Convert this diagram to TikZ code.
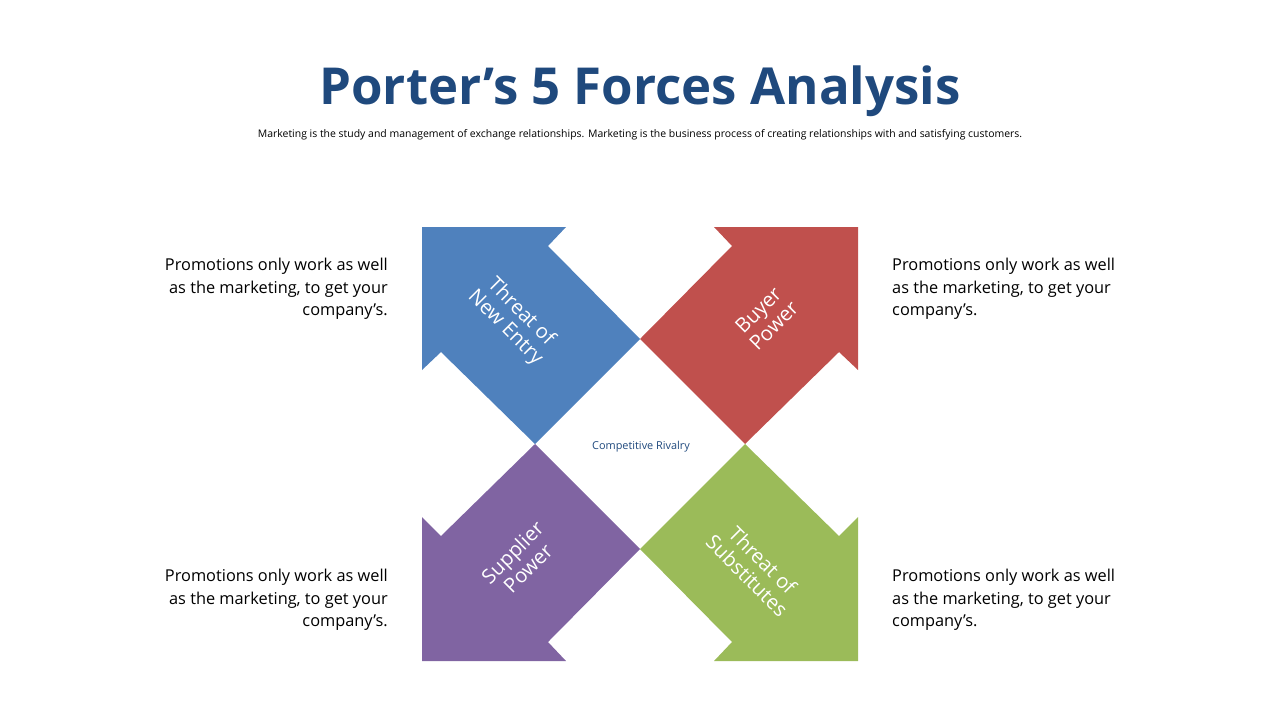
\documentclass[tikz,border=0pt]{standalone}
\usepackage{fontspec}
\setmainfont{Open Sans}
\usepackage{tikz}
\usetikzlibrary{positioning}
\definecolor{titleblue}{HTML}{1F497D}
\definecolor{forceblue}{HTML}{4F81BD}
\definecolor{forcered}{HTML}{C0504D}
\definecolor{forcepurple}{HTML}{8064A2}
\definecolor{forcegreen}{HTML}{9BBB59}
\newcommand{\promo}{Promotions only work as well\\as the marketing, to get your\\company’s.}
\tikzset{
  force/.style={white,font=\fontsize{11.5}{12.5}\selectfont,align=center},
  side/.style={font=\fontsize{9.3}{12.8}\selectfont},
}
\begin{document}
\begin{tikzpicture}[x=0.02cm,y=-0.02cm]
            \useasboundingbox (0,0) rectangle (1280,720);
            
            \node[titleblue,font=\fontsize{29}{34}\selectfont\bfseries] (title) at (640,91) {Porter’s 5 Forces Analysis};
            \node[font=\fontsize{5.95}{7}\selectfont] (sub) at (640,135) {Marketing is the study and management of exchange relationships. Marketing is the business process of creating relationships with and satisfying customers.};
            
            \fill[forceblue] (422,227) -- (566,227) -- (548,246) -- (640,339) -- (535,444) -- (441,352) -- (422,370) -- cycle;
            \fill[forcered] (858,227) -- (714,227) -- (732,246) -- (640,339) -- (745,444) -- (839,352) -- (858,370) -- cycle;
            \fill[forcepurple] (422,661) -- (566,661) -- (548,642) -- (640,549) -- (535,444) -- (441,536) -- (422,517) -- cycle;
            \fill[forcegreen] (858,661) -- (714,661) -- (732,642) -- (640,549) -- (745,444) -- (839,536) -- (858,517) -- cycle;
            
            \node[force,rotate=-45] (entry) at (513,320) {Threat of\\New Entry};
            \node[force,rotate=45] (buyer) at (766,318) {Buyer\\Power};
            \node[force,rotate=45] (supplier) at (520,560) {Supplier\\Power};
            \node[force,rotate=-45] (subst) at (755,568) {Threat of\\Substitutes};
            \node[titleblue,font=\fontsize{6.2}{7}\selectfont] (rivalry) at (641,447) {Competitive Rivalry};
            
            \node[side,align=right,anchor=north east] (tl) at (394,252) {\promo};
            \node[side,align=left,anchor=north west] (tr) at (886,252) {\promo};
            \node[side,align=right,anchor=north east] (bl) at (394,563) {\promo};
            \node[side,align=left,anchor=north west] (br) at (886,563) {\promo};
\end{tikzpicture}
\end{document}
